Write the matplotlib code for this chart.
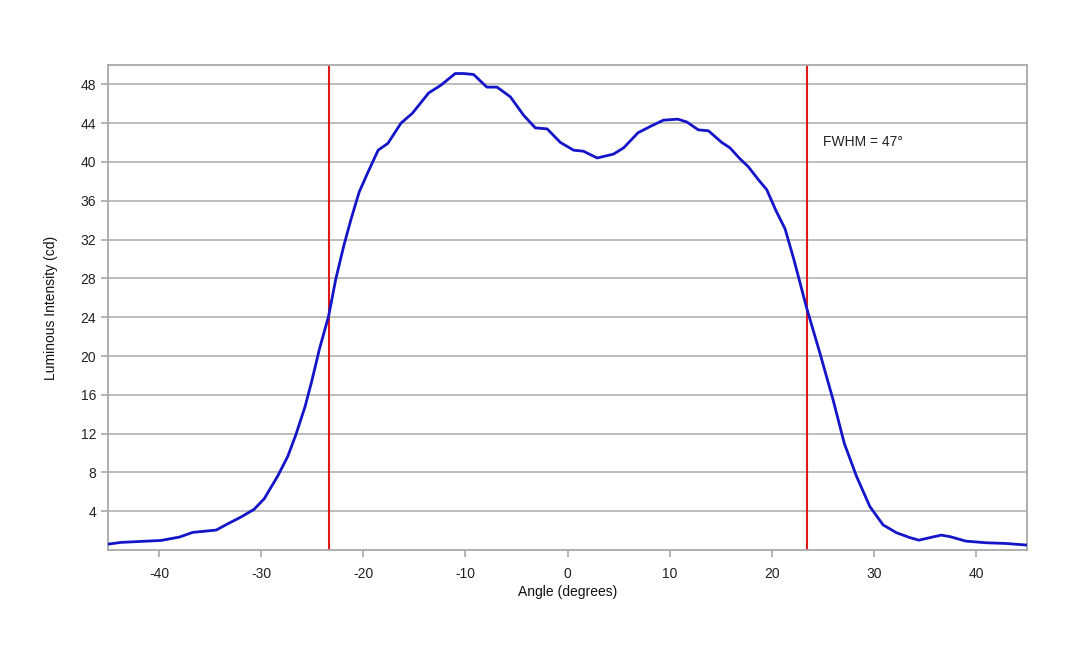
import matplotlib
matplotlib.use("Agg")
import matplotlib.pyplot as plt

plt.rcParams['font.family'] = ['Liberation Sans', 'DejaVu Sans']
plt.rcParams['axes.unicode_minus'] = False

angle = [-45.0, -43.7, -39.8, -38.0, -36.7, -34.4, -33.3, -32.0, -30.7, -29.7,
         -28.4, -27.4, -26.6, -25.7, -25.05, -24.3, -23.4, -22.7, -21.9, -21.2,
         -20.4, -19.6, -18.55, -17.6, -16.3, -15.2, -13.6, -12.4, -11.0, -10.15,
         -9.2, -7.9, -6.9, -5.6, -4.3, -3.15, -2.0, -0.7, 0.6, 1.56,
         2.9, 4.5, 5.5, 6.9, 8.2, 9.4, 10.8, 11.7, 12.8, 13.8,
         15.1, 15.9, 16.9, 17.7, 18.7, 19.5, 20.4, 21.3, 22.15, 23.4,
         24.7, 26.0, 27.1, 28.3, 29.6, 30.9, 32.2, 33.5, 34.4, 35.4,
         36.6, 37.5, 39.0, 41.0, 42.9, 45.0]
intensity = [0.62, 0.8, 1.0, 1.35, 1.83, 2.07, 2.7, 3.4, 4.2, 5.3,
             7.6, 9.65, 11.9, 14.8, 17.4, 20.7, 24.1, 27.9, 31.4, 34.1,
             36.9, 38.8, 41.2, 41.9, 44.0, 45.0, 47.1, 47.9, 49.1, 49.1,
             49.0, 47.7, 47.7, 46.7, 44.8, 43.5, 43.4, 42.0, 41.2, 41.1,
             40.4, 40.8, 41.45, 43.0, 43.7, 44.3, 44.4, 44.1, 43.3, 43.2,
             42.0, 41.45, 40.3, 39.5, 38.15, 37.15, 35.0, 33.1, 30.0, 25.0,
             20.35, 15.5, 11.0, 7.6, 4.5, 2.6, 1.8, 1.3, 1.03, 1.27,
             1.55, 1.38, 0.93, 0.76, 0.69, 0.52]

fwhm_lines = [-23.4, 23.4]
annotation = "FWHM = 47°"
x_ticks = [-40, -30, -20, -10, 0, 10, 20, 30, 40]
y_ticks = [4, 8, 12, 16, 20, 24, 28, 32, 36, 40, 44, 48]

fig = plt.figure(figsize=(10.8, 6.48), dpi=100)
ax = fig.add_axes([0.1, 0.151, 0.851, 0.749])

grid_c = '#b8b8b8'
spine_c = '#a8a8a8'
for yv in y_ticks:
    ax.axhline(yv, color=grid_c, lw=1.3, zorder=1)

ax.plot(angle, intensity, color='#1414c8', lw=2.0, zorder=3,
        solid_joinstyle='round', solid_capstyle='round')
for xv in fwhm_lines:
    ax.axvline(xv, color='#e01818', lw=1.5, zorder=2)

ax.text(25.0, 42.07, annotation, fontsize=10, va='center', ha='left', color='#222222')

ax.set_xlim(-45, 45)
ax.set_ylim(0, 50)
ax.set_xticks(x_ticks)
ax.set_yticks(y_ticks)
ax.tick_params(axis='both', colors=spine_c, labelcolor='#222222', labelsize=10,
               length=5, width=1.2, direction='out')
ax.tick_params(axis='x', pad=7)
for s in ax.spines.values():
    s.set_color(spine_c)
    s.set_linewidth(1.3)

ax.set_xlabel("Angle (degrees)", fontsize=10, color='#111111', labelpad=3)
ax.set_ylabel("Luminous Intensity (cd)", fontsize=10, color='#111111', labelpad=16)

fig.savefig("out.png", dpi=100)
